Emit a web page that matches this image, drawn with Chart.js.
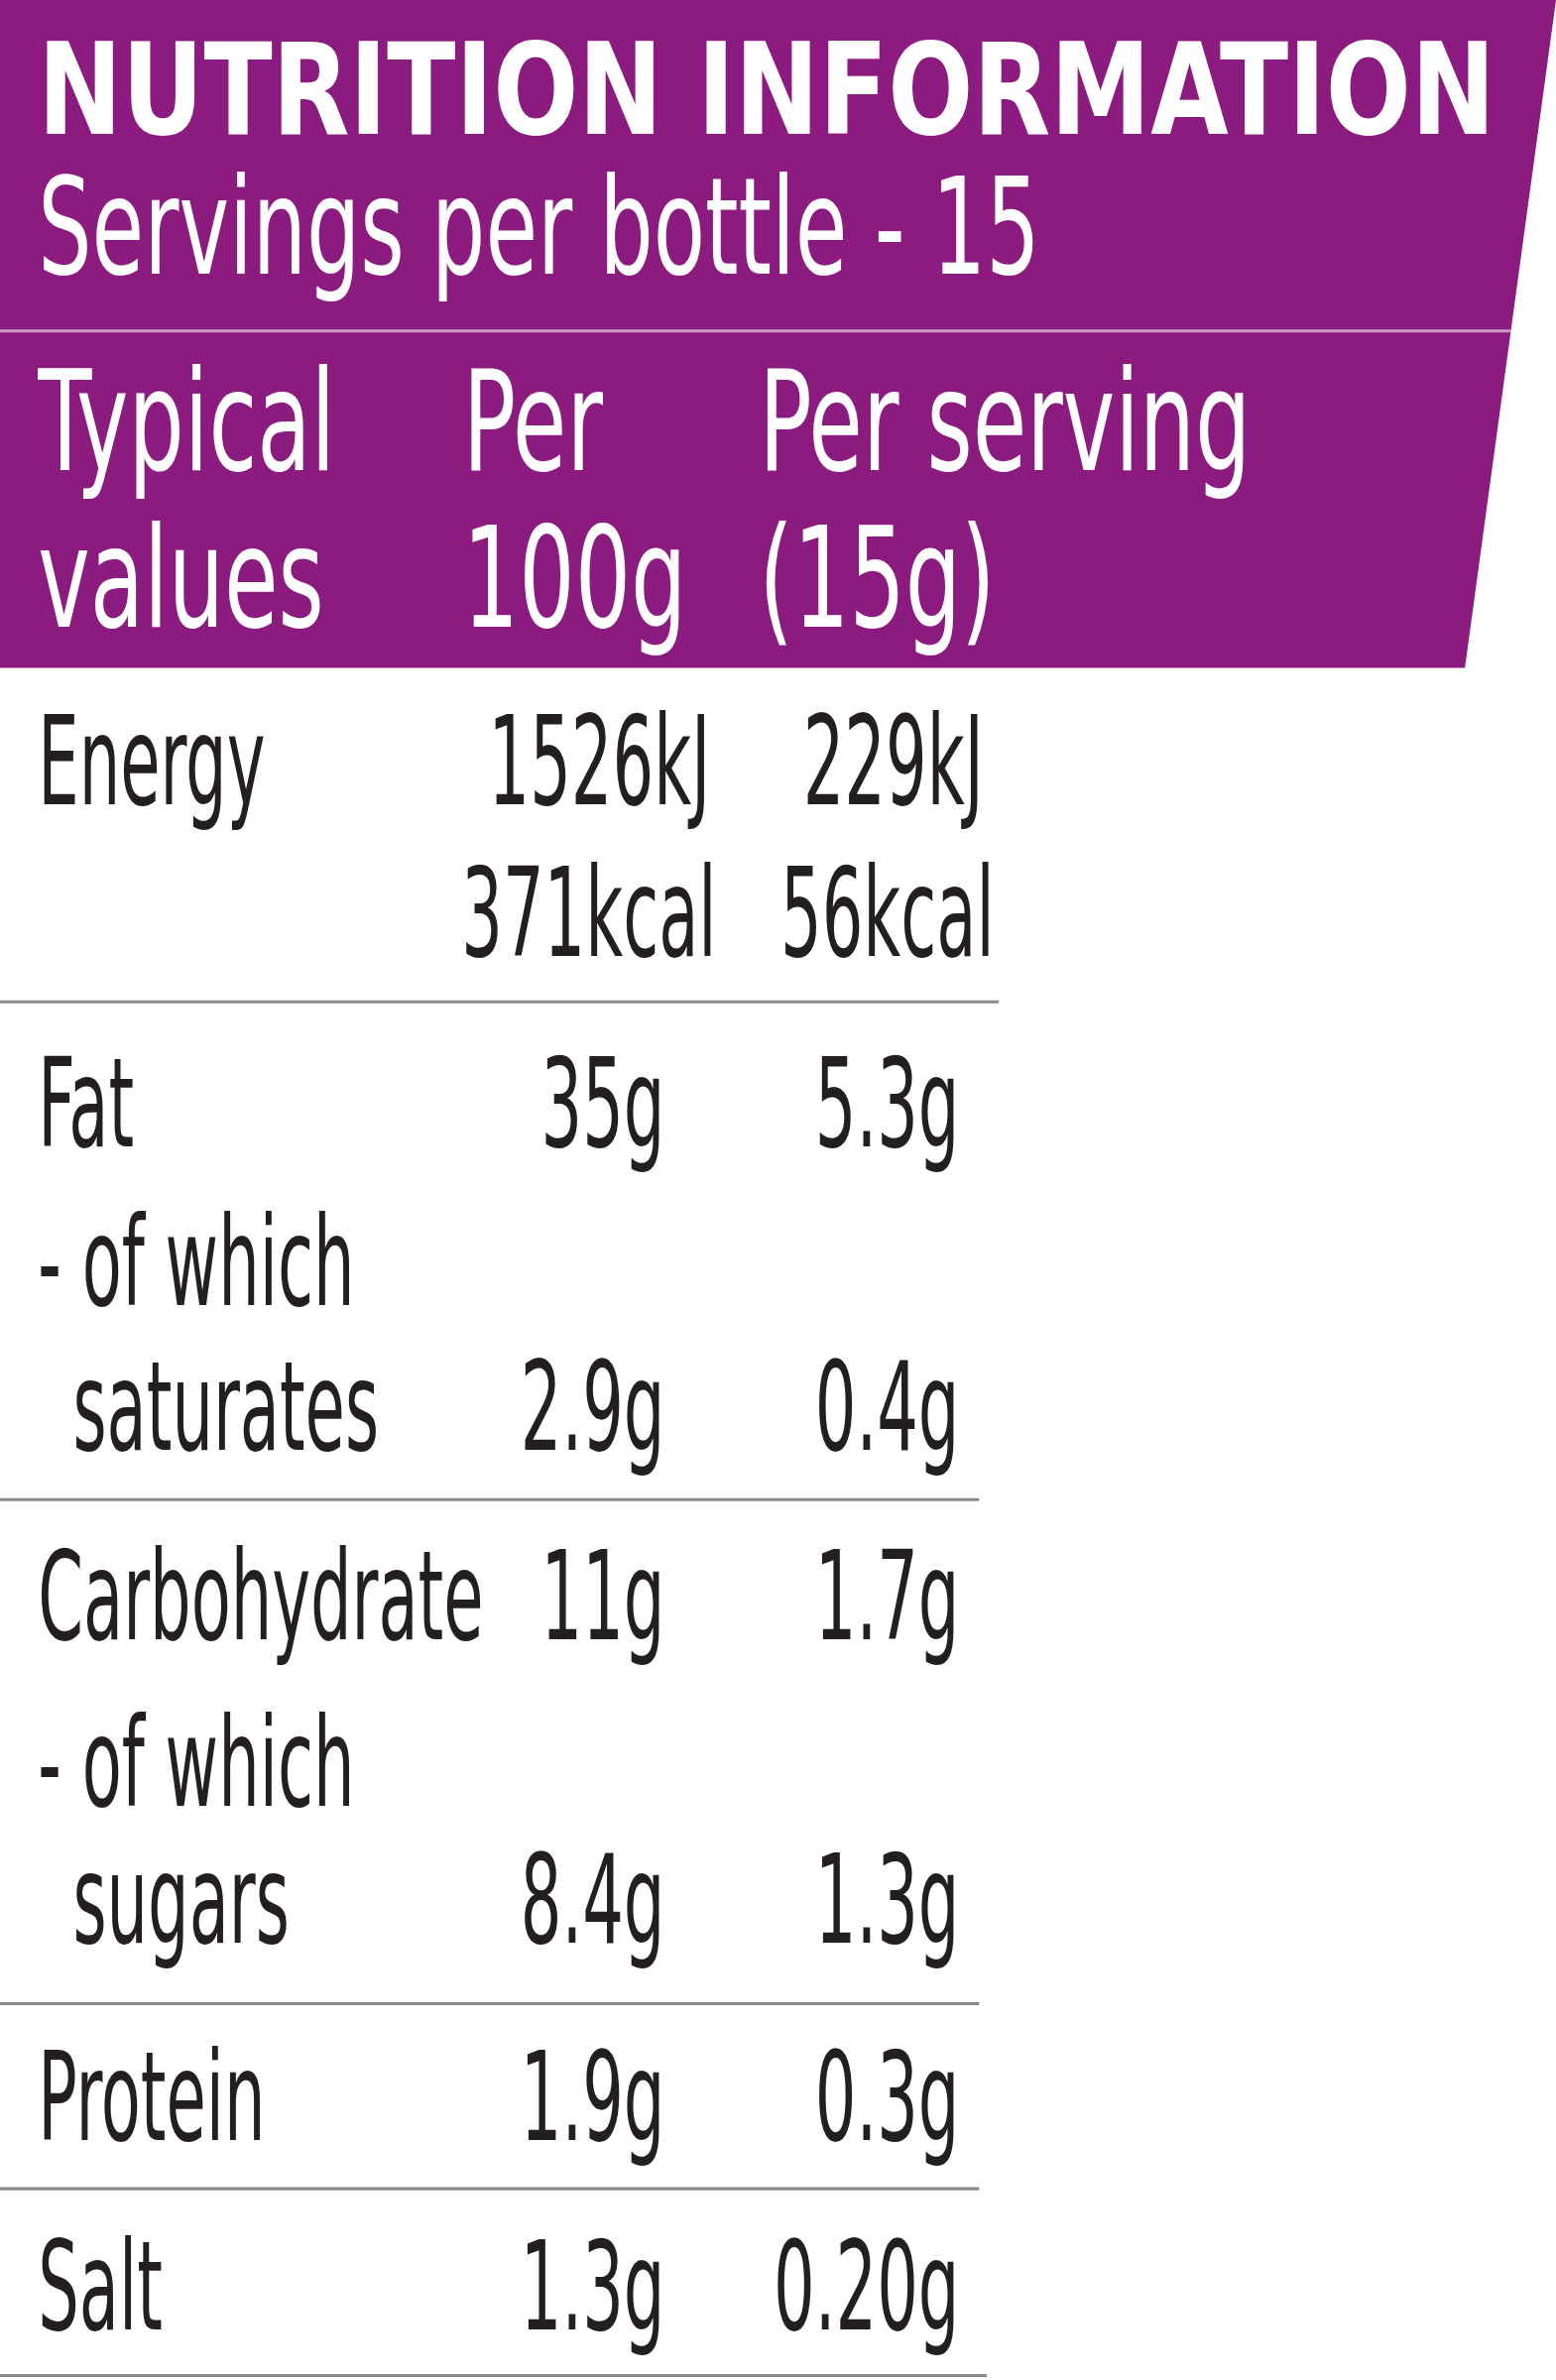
<!DOCTYPE html>
<html>
<head>
<meta charset="utf-8">
<script src="https://cdn.jsdelivr.net/npm/chart.js@4.4.1/dist/chart.umd.min.js"></script>
<style>
  html, body { margin: 0; padding: 0; background: #fff; }
  #wrap { width: 1569px; height: 2400px; }
</style>
</head>
<body>
<div id="wrap"><canvas id="myChart"></canvas></div>
<script>
// data block
const title = 'NUTRITION INFORMATION';
const servings = 'Servings per bottle - 15';
const headers = [['Typical', 'values'], ['Per', '100g'], ['Per serving', '(15g)']];
const nutrients = ['Energy', 'Fat', '- of which', 'saturates', 'Carbohydrate', '- of which', 'sugars', 'Protein', 'Salt'];
const per100 = ['1526kJ', '35g', '', '2.9g', '11g', '', '8.4g', '1.9g', '1.3g'];
const perServing = ['229kJ', '5.3g', '', '0.4g', '1.7g', '', '1.3g', '0.3g', '0.20g'];
const energyKcal = ['371kcal', '56kcal'];

// layout (reference units, 1025 x 1568)
const rowBase = [530, 755, 860, 955, 1080, 1190, 1280, 1410, 1535];
const rowIndent = [25, 25, 25, 48, 25, 25, 48, 25, 25];
const dividers = [[660, 658], [988, 645], [1320, 645], [1442, 645], [1565, 650]];
const purple = '#8c1b7f';
const ink = '#231f20';
const FONT = '"Liberation Sans Narrow", "DejaVu Sans Condensed", sans-serif';

const tablePlugin = {
  id: 'table',
  afterDraw(chart) {
    const ctx = chart.ctx, xs = chart.scales.x, ys = chart.scales.y;
    const X = v => xs.getPixelForValue(v), Y = v => ys.getPixelForValue(v);
    const S = chart.width / 1025;
    // squeeze > 0 is a factor, squeeze < 0 means target width (ref units)
    function txt(t, x, y, size, weight, color, squeeze, align) {
      ctx.save();
      ctx.font = weight + ' ' + (size * S) + 'px ' + FONT;
      ctx.fillStyle = color;
      ctx.textBaseline = 'alphabetic';
      const raw = ctx.measureText(t).width;
      if (squeeze < 0) squeeze = (-squeeze * S) / raw;
      const w = raw * squeeze;
      let px = X(x);
      if (align === 'right') px -= w;
      ctx.translate(px, Y(y));
      ctx.scale(squeeze, 1);
      ctx.fillText(t, 0, 0);
      ctx.restore();
    }
    // header band
    ctx.save();
    ctx.fillStyle = purple;
    ctx.beginPath();
    ctx.moveTo(X(0), Y(0)); ctx.lineTo(X(1025), Y(0));
    ctx.lineTo(X(965), Y(440)); ctx.lineTo(X(0), Y(440));
    ctx.closePath(); ctx.fill();
    ctx.strokeStyle = 'rgba(255,255,255,0.55)';
    ctx.lineWidth = 2 * S;
    ctx.beginPath(); ctx.moveTo(X(0), Y(218)); ctx.lineTo(X(995), Y(218)); ctx.stroke();
    ctx.restore();

    txt(title, 25, 88, 84, 'bold', '#fff', -960, 'left');
    txt(servings, 25, 180, 88, 'normal', '#fff', -660, 'left');
    const hx = [25, 305, 500];
    headers.forEach((h, i) => {
      txt(h[0], hx[i], 310, 92, 'normal', '#fff', 0.70, 'left');
      txt(h[1], hx[i], 413, 92, 'normal', '#fff', 0.70, 'left');
    });

    const SQ = 0.58;
    nutrients.forEach((n, i) => {
      txt(n, rowIndent[i], rowBase[i], 82, 'normal', ink, SQ, 'left');
      const r1 = i === 0 ? 468 : 438, r2 = i === 0 ? 648 : 632;
      if (per100[i]) txt(per100[i], r1, rowBase[i], 82, 'normal', ink, SQ, 'right');
      if (perServing[i]) txt(perServing[i], r2, rowBase[i], 82, 'normal', ink, SQ, 'right');
    });
    txt(energyKcal[0], 472, 630, 82, 'normal', ink, SQ, 'right');
    txt(energyKcal[1], 655, 630, 82, 'normal', ink, SQ, 'right');

    ctx.save();
    ctx.strokeStyle = '#8a8a8a';
    ctx.lineWidth = 2 * S;
    dividers.forEach(d => {
      ctx.beginPath(); ctx.moveTo(X(0), Y(d[0])); ctx.lineTo(X(d[1]), Y(d[0])); ctx.stroke();
    });
    ctx.restore();
  }
};

const myChart = new Chart(document.getElementById('myChart'), {
  type: 'scatter',
  data: { datasets: [{ data: [], pointRadius: 0 }] },
  options: {
    responsive: true,
    maintainAspectRatio: false,
    animation: false,
    layout: { padding: 0 },
    plugins: { legend: { display: false }, tooltip: { enabled: false } },
    scales: {
      x: { type: 'linear', min: 0, max: 1025, display: false },
      y: { type: 'linear', min: 0, max: 1568, reverse: true, display: false }
    }
  },
  plugins: [tablePlugin]
});
</script>
</body>
</html>
